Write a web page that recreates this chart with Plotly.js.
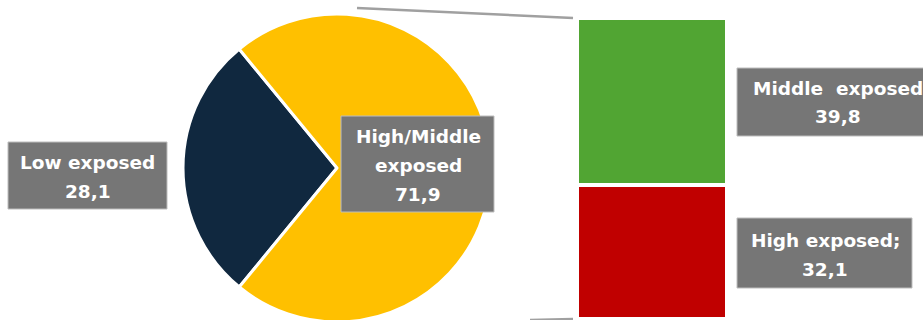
<!DOCTYPE html>
<html>
<head>
<meta charset="utf-8">
<script src="https://cdn.plot.ly/plotly-3.0.1.min.js"></script>
<style>
html,body{margin:0;padding:0;overflow:hidden;background:#fff;}
#chart{width:923px;height:330px;}
</style>
</head>
<body>
<div id="chart"></div>
<script>
// ---- data ----
const pieLabels = ['Low exposed', 'High/Middle<br>exposed'];
const pieValues = [28.1, 71.9];
const pieColors = ['#10283F', '#FFC000'];

const barLabels = ['High exposed;', 'Middle  exposed'];
const barValues = [32.1, 39.8];
const barColors = ['#C00000', '#51A533'];

// ---- helpers ----
const W = 923, H = 330;
const fmt = v => v.toFixed(1).replace('.', ',');
const px = x => x / W;
const py = y => (H - y) / H;

const traces = [
  {
    type: 'pie',
    labels: pieLabels,
    values: pieValues,
    sort: false,
    direction: 'clockwise',
    rotation: 219.4,
    marker: {colors: pieColors, line: {color: '#ffffff', width: 3}},
    textinfo: 'none',
    hoverinfo: 'skip',
    showlegend: false,
    domain: {x: [px(183), px(491)], y: [py(322), py(14)]}
  }
];
barLabels.forEach((lab, i) => {
  traces.push({
    type: 'bar',
    x: [0],
    y: [barValues[i]],
    name: lab,
    width: 1,
    marker: {color: barColors[i], line: {color: '#ffffff', width: 4}},
    hoverinfo: 'skip',
    showlegend: false,
    xaxis: 'x',
    yaxis: 'y'
  });
});

// label boxes (pixel geometry) and text lines
const boxes = [
  {x0: 8, x1: 167, y0: 142, y1: 209, cx: 87.5, base: [168, 197], lines: pieLabels[0].split('<br>').concat([fmt(pieValues[0])])},
  {x0: 341, x1: 494, y0: 116, y1: 212, cx: 418, base: [142, 171, 200], lines: pieLabels[1].split('<br>').concat([fmt(pieValues[1])])},
  {x0: 737, x1: 945, y0: 68, y1: 136, cx: 838, base: [94, 123], lines: [barLabels[1], fmt(barValues[1])]},
  {x0: 737, x1: 912, y0: 218, y1: 288, cx: 825, base: [246, 275], lines: [barLabels[0], fmt(barValues[0])]}
];

const shapes = [
  {type: 'line', xref: 'paper', yref: 'paper', x0: px(357), y0: py(8), x1: px(573), y1: py(18), line: {color: '#A0A0A0', width: 2.5}},
  {type: 'line', xref: 'paper', yref: 'paper', x0: px(530), y0: py(320), x1: px(573), y1: py(319), line: {color: '#A0A0A0', width: 2.5}}
];
const annotations = [];
boxes.forEach(b => {
  shapes.push({type: 'rect', xref: 'paper', yref: 'paper', x0: px(b.x0), x1: px(b.x1), y0: py(b.y1), y1: py(b.y0),
    fillcolor: '#767676', line: {color: '#BDBDBD', width: 1}, layer: 'above'});
  b.lines.forEach((t, j) => {
    annotations.push({xref: 'paper', yref: 'paper', x: px(b.cx), y: py(b.base[j] - 6),
      xanchor: 'center', yanchor: 'middle', showarrow: false, text: '<b>' + t.replace(/  /g, '&nbsp; ') + '</b>',
      font: {family: 'DejaVu Sans, sans-serif', size: 18.5, color: '#ffffff'}});
  });
});

const total = barValues.reduce((a, b) => a + b, 0);
const layout = {
  width: W, height: H,
  margin: {l: 0, r: 0, t: 0, b: 0},
  paper_bgcolor: '#ffffff', plot_bgcolor: 'rgba(0,0,0,0)',
  barmode: 'stack',
  xaxis: {domain: [px(577), px(727)], range: [-0.5, 0.5], visible: false, fixedrange: true},
  yaxis: {domain: [py(319), py(18)], range: [0, total], visible: false, fixedrange: true},
  shapes: shapes,
  annotations: annotations,
  showlegend: false
};

Plotly.newPlot('chart', traces, layout, {displayModeBar: false, staticPlot: true});
</script>
</body>
</html>
